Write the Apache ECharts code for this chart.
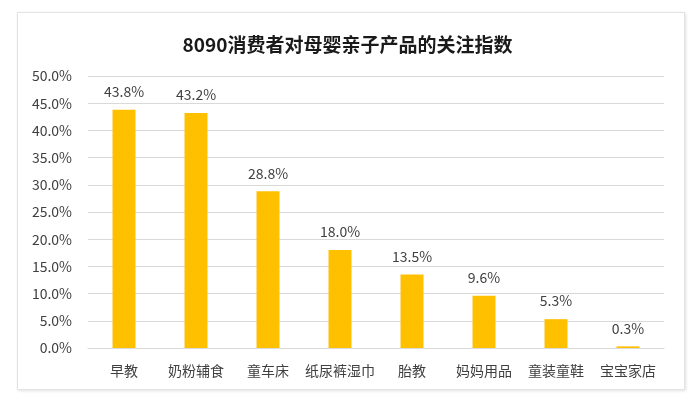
<!DOCTYPE html>
<html><head><meta charset="utf-8">
<script src="https://cdn.jsdelivr.net/npm/echarts@6/dist/echarts.min.js"></script>
<style>
html,body{margin:0;padding:0;background:#fff;}
#frame{position:absolute;left:17px;top:12px;width:666px;height:376px;border:1px solid #e3e3e3;box-shadow:1px 1px 3px rgba(0,0,0,0.12);}
#c{position:absolute;left:0;top:0;width:695px;height:398px;}
</style></head>
<body><div id="frame"></div><div id="c"></div>
<script>
const title = '8090消费者对母婴亲子产品的关注指数';
const categories = ['早教','奶粉辅食','童车床','纸尿裤湿巾','胎教','妈妈用品','童装童鞋','宝宝家店'];
const values = [43.8, 43.2, 28.8, 18.0, 13.5, 9.6, 5.3, 0.3];
const chart = echarts.init(document.getElementById('c'), null, {renderer:'canvas'});
const font = '"Microsoft YaHei","Noto Sans CJK SC",sans-serif';
chart.setOption({
  animation:false,
  backgroundColor:'transparent',
  title:{text:title,left:'center',top:30,textStyle:{fontFamily:font,fontSize:19,fontWeight:'bold',color:'#1a1a1a'}},
  grid:{left:88,right:31,top:76,bottom:50,containLabel:false},
  xAxis:{type:'category',data:categories,axisLine:{lineStyle:{color:'#d9d9d9'}},axisTick:{show:false},
    axisLabel:{interval:0,fontFamily:font,fontSize:14,color:'#404040',margin:16}},
  yAxis:{type:'value',min:0,max:50,interval:5,axisLine:{show:false},axisTick:{show:false},
    splitLine:{lineStyle:{color:'#d9d9d9'}},
    axisLabel:{fontFamily:font,fontSize:14,color:'#404040',margin:16,formatter:v=>v.toFixed(1)+'%'}},
  series:[{type:'bar',data:values,barWidth:23,itemStyle:{color:'#FFC000'},
    label:{show:true,position:'top',distance:11,fontFamily:font,fontSize:14,color:'#404040',formatter:p=>p.value.toFixed(1)+'%'}}]
});
</script></body></html>
